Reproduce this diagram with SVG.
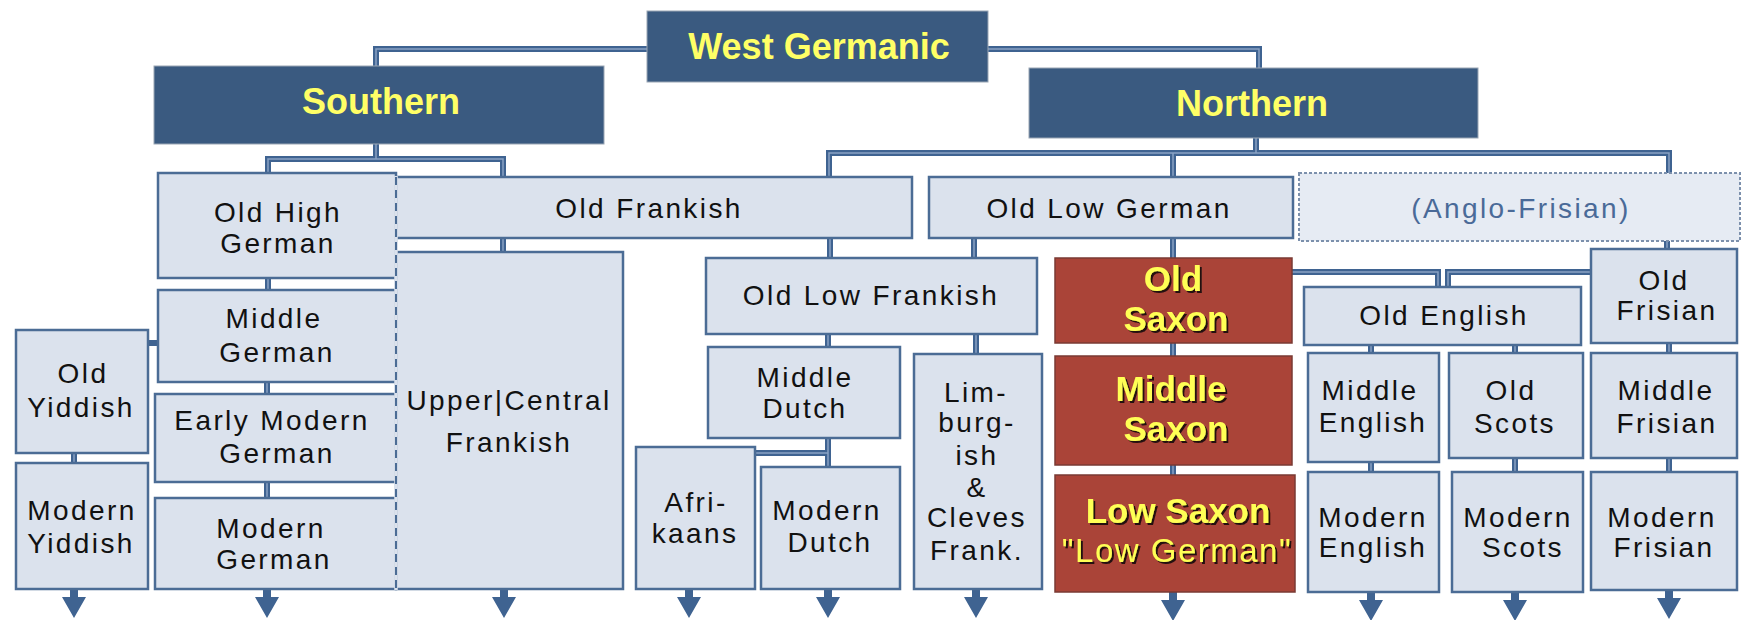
<svg xmlns="http://www.w3.org/2000/svg" width="1747" height="620" viewBox="0 0 1747 620">
<style>
.hdr{fill:#3A5A80;stroke:#9AA6B4;stroke-width:1}
.box{fill:#DBE2ED;stroke:#4B6C95;stroke-width:2.5}
.red{fill:#AA4438;stroke:#7A3A33;stroke-width:1.5}
.af{fill:#E6EBF3;stroke:#7C90AC;stroke-width:2;stroke-dasharray:3 2}
.ht{font-family:"Liberation Sans",Arial,sans-serif;font-weight:bold;font-size:36px;fill:#FFFF66;text-anchor:middle}
.rt{font-family:"Liberation Sans",Arial,sans-serif;font-weight:bold;font-size:35px;fill:#FFFF55;text-anchor:middle;filter:url(#sh)}
.rq{font-family:"Liberation Sans",Arial,sans-serif;font-weight:normal;font-size:33px;letter-spacing:1.5px;fill:#FFFF55;text-anchor:middle;filter:url(#sh)}
.t{font-family:"Liberation Sans",Arial,sans-serif;font-size:28px;letter-spacing:2.4px;fill:#111;text-anchor:middle}
.tb{font-family:"Liberation Sans",Arial,sans-serif;font-size:28px;letter-spacing:2.4px;fill:#4A6A98;text-anchor:middle}
.c{fill:none;stroke:#3F6391;stroke-width:6}
.ci{fill:none;stroke:#8AA3C4;stroke-width:1.5}
.arr{fill:#3F6391}
</style>
<defs>
<filter id="sh" x="-10%" y="-20%" width="120%" height="140%">
<feDropShadow dx="2" dy="2" stdDeviation="0.4" flood-color="#1a0a08" flood-opacity="0.95"/>
</filter>
<path id="ar" d="M -4 0 H 4 V 8 H 12 L 0 29 L -12 8 H -4 Z"/>
</defs>

<g id="connectors">
<path id="conn-path" class="c" d="M647 49 H376 V66 M988 49 H1259 V68 M376 144 V159 M268 173 V159 H503 V177 M1256 138 V153 M829 177 V153 H1669 V173 M1173 153 V177 M1667 241 V249 M503 238 V252 M830 238 V258 M974 238 V258 M1173 238 V258 M268 278 V290 M158 343 H148 M267 382 V394 M267 482 V498 M74 453 V463 M828 334 V347 M976 334 V354 M828 438 V467 M828 453 H755 M1173 343 V356 M1173 465 V475 M1292 272 H1438 V287 M1591 272 H1448 V287 M1371 345 V353 M1515 345 V353 M1669 343 V353 M1371 462 V472 M1515 458 V472 M1669 458 V472"/>
<path class="ci" d="M647 49 H376 V66 M988 49 H1259 V68 M376 144 V159 M268 173 V159 H503 V177 M1256 138 V153 M829 177 V153 H1669 V173 M1173 153 V177 M1667 241 V249 M503 238 V252 M830 238 V258 M974 238 V258 M1173 238 V258 M268 278 V290 M267 382 V394 M267 482 V498 M74 453 V463 M828 334 V347 M976 334 V354 M828 438 V467 M828 453 H755 M1173 343 V356 M1173 465 V475 M1292 272 H1438 V287 M1591 272 H1448 V287 M1371 345 V353 M1515 345 V353 M1669 343 V353 M1371 462 V472 M1515 458 V472 M1669 458 V472"/>
<g class="arr">
<use href="#ar" x="74" y="589"/>
<use href="#ar" x="267" y="589"/>
<use href="#ar" x="504" y="589"/>
<use href="#ar" x="689" y="589"/>
<use href="#ar" x="828" y="589"/>
<use href="#ar" x="976" y="589"/>
<use href="#ar" x="1173" y="592"/>
<use href="#ar" x="1371" y="592"/>
<use href="#ar" x="1515" y="592"/>
<use href="#ar" x="1669" y="590"/>
</g>
</g>

<g id="west-germanic"><rect class="hdr" x="647" y="11" width="341" height="71"/><text class="ht" x="819" y="59">West Germanic</text></g>
<g id="southern"><rect class="hdr" x="154" y="66" width="450" height="78"/><text class="ht" x="381" y="114">Southern</text></g>
<g id="northern"><rect class="hdr" x="1029" y="68" width="449" height="70"/><text class="ht" x="1252" y="116">Northern</text></g>

<g id="old-frankish"><rect class="box" x="396" y="177" width="516" height="61"/><text class="t" x="649" y="218">Old Frankish</text></g>
<g id="upper-central-frankish"><rect class="box" x="396" y="252" width="227" height="337"/><text class="t" x="509" y="410">Upper|Central</text><text class="t" x="509" y="452">Frankish</text></g>
<g id="old-high-german"><rect class="box" x="158" y="173" width="238" height="105"/><text class="t" x="278" y="222">Old High</text><text class="t" x="278" y="253">German</text></g>
<g id="middle-german"><rect class="box" x="158" y="290" width="238" height="92"/><text class="t" x="274" y="328">Middle</text><text class="t" x="277" y="362">German</text></g>
<g id="early-modern-german"><rect class="box" x="155" y="394" width="241" height="88"/><text class="t" x="272" y="430">Early Modern</text><text class="t" x="277" y="463">German</text></g>
<g id="modern-german"><rect class="box" x="155" y="498" width="241" height="91"/><text class="t" x="271" y="538">Modern</text><text class="t" x="274" y="569">German</text></g>
<path d="M396 176 V590" stroke="#DBE2ED" stroke-width="3.5" fill="none"/>
<path d="M396 177 V589" stroke="#4B6C95" stroke-width="2" stroke-dasharray="8 5" fill="none"/>

<g id="old-yiddish"><rect class="box" x="16" y="330" width="132" height="123"/><text class="t" x="83" y="383">Old</text><text class="t" x="81" y="417">Yiddish</text></g>
<g id="modern-yiddish"><rect class="box" x="16" y="463" width="132" height="126"/><text class="t" x="82" y="520">Modern</text><text class="t" x="81" y="553">Yiddish</text></g>

<g id="old-low-german"><rect class="box" x="929" y="177" width="364" height="61"/><text class="t" x="1109" y="218">Old Low German</text></g>
<g id="anglo-frisian"><rect class="af" x="1299" y="173" width="441" height="68"/><text class="tb" x="1521" y="218">(Anglo-Frisian)</text></g>

<g id="old-low-frankish"><rect class="box" x="706" y="258" width="331" height="76"/><text class="t" x="871" y="305">Old Low Frankish</text></g>
<g id="middle-dutch"><rect class="box" x="708" y="347" width="192" height="91"/><text class="t" x="805" y="387">Middle</text><text class="t" x="805" y="418">Dutch</text></g>
<g id="afrikaans"><rect class="box" x="636" y="447" width="119" height="142"/><text class="t" x="696" y="512">Afri-</text><text class="t" x="695" y="543">kaans</text></g>
<g id="modern-dutch"><rect class="box" x="761" y="467" width="139" height="122"/><text class="t" x="827" y="520">Modern</text><text class="t" x="830" y="552">Dutch</text></g>
<g id="limburgish"><rect class="box" x="914" y="354" width="128" height="235"/><text class="t" x="976" y="402">Lim-</text><text class="t" x="977" y="432">burg-</text><text class="t" x="977" y="465">ish</text><text class="t" x="977" y="497">&amp;</text><text class="t" x="977" y="527">Cleves</text><text class="t" x="977" y="560">Frank.</text></g>

<g id="old-saxon"><rect class="red" x="1055" y="258" width="237" height="85"/><text class="rt" x="1173" y="291">Old</text><text class="rt" x="1176" y="331">Saxon</text></g>
<g id="middle-saxon"><rect class="red" x="1055" y="356" width="237" height="109"/><text class="rt" x="1171" y="401">Middle</text><text class="rt" x="1176" y="441">Saxon</text></g>
<g id="low-saxon"><rect class="red" x="1055" y="475" width="240" height="117"/><text class="rt" x="1178" y="523">Low Saxon</text><text class="rq" x="1177" y="562">"Low German"</text></g>

<g id="old-english"><rect class="box" x="1304" y="287" width="277" height="58"/><text class="t" x="1444" y="325">Old English</text></g>
<g id="old-frisian"><rect class="box" x="1591" y="249" width="146" height="94"/><text class="t" x="1664" y="290">Old</text><text class="t" x="1667" y="320">Frisian</text></g>
<g id="middle-english"><rect class="box" x="1308" y="353" width="131" height="109"/><text class="t" x="1370" y="400">Middle</text><text class="t" x="1373" y="432">English</text></g>
<g id="old-scots"><rect class="box" x="1449" y="353" width="134" height="105"/><text class="t" x="1511" y="400">Old</text><text class="t" x="1515" y="433">Scots</text></g>
<g id="middle-frisian"><rect class="box" x="1591" y="353" width="146" height="105"/><text class="t" x="1666" y="400">Middle</text><text class="t" x="1667" y="433">Frisian</text></g>
<g id="modern-english"><rect class="box" x="1308" y="472" width="131" height="120"/><text class="t" x="1373" y="527">Modern</text><text class="t" x="1373" y="557">English</text></g>
<g id="modern-scots"><rect class="box" x="1452" y="472" width="131" height="120"/><text class="t" x="1518" y="527">Modern</text><text class="t" x="1523" y="557">Scots</text></g>
<g id="modern-frisian"><rect class="box" x="1591" y="472" width="146" height="118"/><text class="t" x="1662" y="527">Modern</text><text class="t" x="1664" y="557">Frisian</text></g>
</svg>
